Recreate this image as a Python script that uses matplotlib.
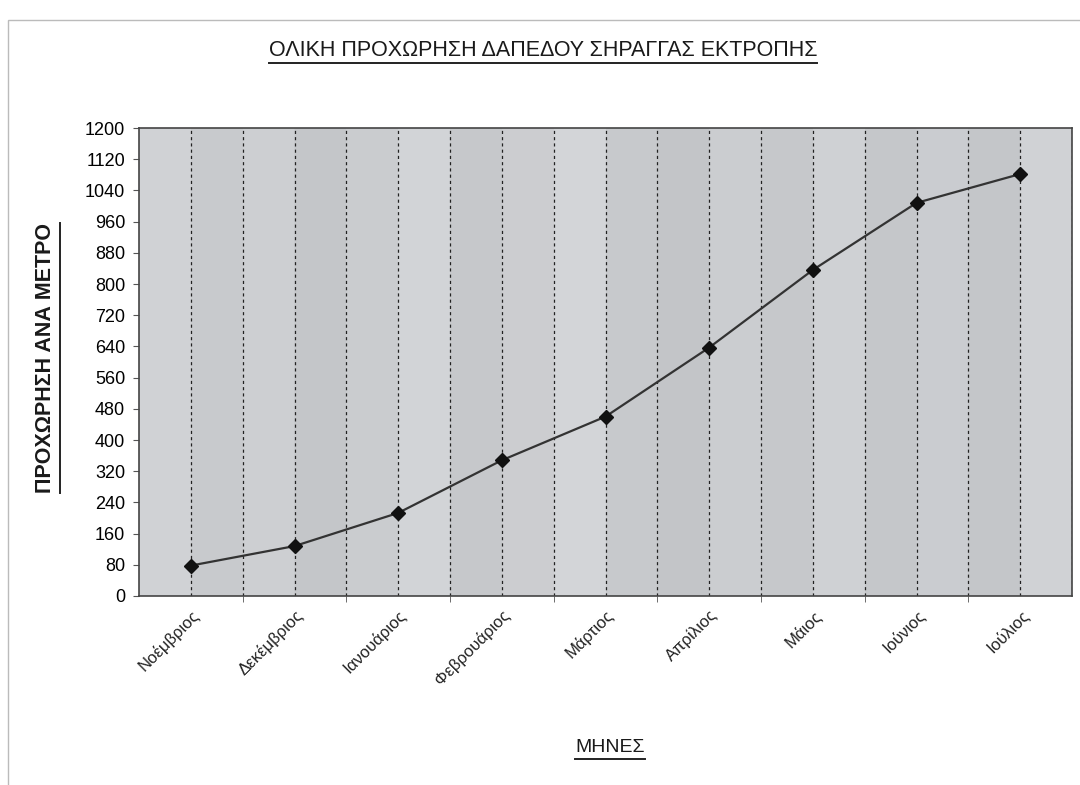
import matplotlib.pyplot as plt
import numpy as np

plt.rcParams['font.family'] = ['Liberation Sans', 'DejaVu Sans']

# Monthly cumulative advance of the diversion tunnel floor (m)
months = ['Νοέμβριος', 'Δεκέμβριος', 'Ιανουάριος', 'Φεβρουάριος', 'Μάρτιος',
          'Απρίλιος', 'Μάιος', 'Ιούνιος', 'Ιούλιος']
advance = [78, 128, 213, 348, 460, 637, 836, 1008, 1082]
yticks = list(range(0, 1201, 80))

# shades for the vertical background bands (one per half month)
band_shades = ['#d0d2d5', '#c8cacd', '#cdcfd2', '#c4c6c9', '#cacccf', '#d2d4d7',
               '#c6c8cb', '#cccdd0', '#d3d5d8', '#c7c9cc', '#c3c5c8', '#cbcdd0',
               '#c6c8cb', '#cfd1d4', '#c5c7ca', '#caccd0', '#c4c6c9', '#d0d2d5']

fig = plt.figure(figsize=(10.8, 7.85), dpi=100)
ax = fig.add_axes([139 / 1080, 1 - 596 / 785, 933 / 1080, 468 / 785])

x = np.arange(len(months))
ax.set_xlim(-0.5, len(months) - 0.5)
ax.set_ylim(0, 1200)

# striped grey plot area
ax.set_facecolor('#c8cacd')
for i, c in enumerate(band_shades):
    ax.axvspan(-0.5 + i * 0.5, i * 0.5, color=c, lw=0, zorder=0)

# dashed lines at month centres and month boundaries
for gx in np.arange(0, len(months) - 0.5 + 1e-9, 0.5):
    ax.axvline(gx, color='#222222', lw=0.9, ls=(0, (2.5, 2.5)), zorder=1)

ax.plot(x, advance, color='#333333', lw=1.6, marker='D', markersize=7,
        markerfacecolor='#111111', markeredgecolor='#111111', zorder=3)

ax.set_yticks(yticks)
ax.set_yticklabels([str(v) for v in yticks], fontsize=13)
ax.tick_params(axis='y', direction='out', length=4, width=0.8, color='#555555', pad=6)

ax.set_xticks(x)
ax.set_xticklabels(months, rotation=45, ha='right', rotation_mode='anchor',
                   fontsize=12, color='#222222')
ax.tick_params(axis='x', length=0, pad=8)
ax.set_xticks(np.arange(0.5, len(months) - 0.5, 1), minor=True)
ax.tick_params(axis='x', which='minor', direction='out', length=4, color='#555555')

for s in ax.spines.values():
    s.set_color('#444444')
    s.set_linewidth(1.2)


def underlined(x0, y0, txt, **kw):
    t = fig.text(x0, y0, txt, **kw)
    fig.canvas.draw()
    bb = t.get_window_extent().transformed(fig.transFigure.inverted())
    if kw.get('rotation', 0) == 90:
        xl = bb.x1 + 3 / 1080
        fig.add_artist(plt.Line2D([xl, xl], [bb.y0, bb.y1], color='#222222',
                                  lw=1.4, transform=fig.transFigure))
    else:
        yl = bb.y0 - 2 / 785
        fig.add_artist(plt.Line2D([bb.x0, bb.x1], [yl, yl], color='#222222',
                                  lw=1.4, transform=fig.transFigure))
    return t


underlined(543 / 1080, 1 - 50 / 785, 'ΟΛΙΚΗ ΠΡΟΧΩΡΗΣΗ ΔΑΠΕΔΟΥ ΣΗΡΑΓΓΑΣ ΕΚΤΡΟΠΗΣ',
           ha='center', va='center', fontsize=15.5, color='#1a1a1a')
underlined(46 / 1080, 1 - 358 / 785, 'ΠΡΟΧΩΡΗΣΗ ΑΝΑ ΜΕΤΡΟ', rotation=90,
           ha='center', va='center', fontsize=15.5, fontweight='bold', color='#1a1a1a')
underlined(610 / 1080, 1 - 748 / 785, 'ΜΗΝΕΣ',
           ha='center', va='center', fontsize=14, color='#1a1a1a')

# thin frame round the whole chart
fig.add_artist(plt.Rectangle((8 / 1080, -0.01), 1075 / 1080, 1 - 20 / 785 + 0.01,
                             fill=False, ec='#bbbbbb', lw=1, transform=fig.transFigure))

fig.savefig('out.png', dpi=100, facecolor='white')
